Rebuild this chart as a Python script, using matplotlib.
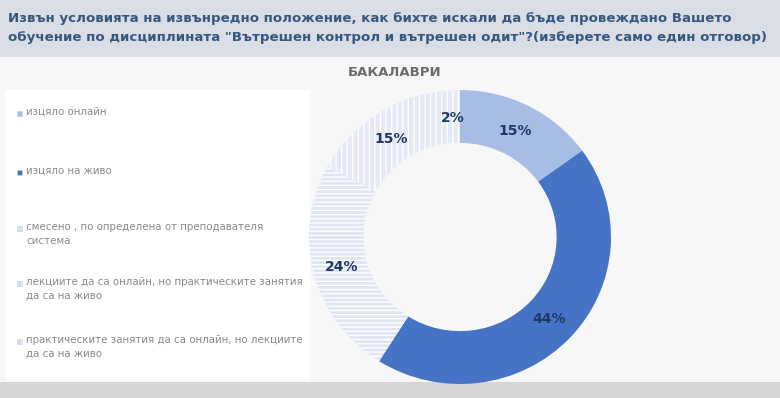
import numpy as np
import matplotlib.pyplot as plt
from matplotlib.patches import Rectangle

# данни за бакалаври
labels = ["изцяло онлайн",
          "изцяло на живо",
          "смесено , по определена от преподавателя\nсистема",
          "лекциите да са онлайн, но практическите занятия\nда са на живо",
          "практическите занятия да са онлайн, но лекциите\nда са на живо"]
values = [15, 44, 24, 15, 2]
colors = ['#a7bde6', '#4673c6', '#dfe5f3', '#e4e9f5', '#e4e9f5']
hatches = [None, None, '----', '|||', '|||']

W, H = 780, 398
plt.rcParams['hatch.linewidth'] = 1.0
fig = plt.figure(figsize=(W / 100, H / 100), dpi=100)
fig.patch.set_facecolor('#f7f7f7')

def px_axes(x0, y0, w, h):
    # координати в пиксели, отгоре надолу
    a = fig.add_axes([x0 / W, 1 - (y0 + h) / H, w / W, h / H])
    a.set_xticks([]); a.set_yticks([])
    for s in a.spines.values():
        s.set_visible(False)
    return a

# лента със заглавието
tb = px_axes(0, 0, W, 57)
tb.set_facecolor('#d9dee6')
tb.text(8 / W, 0.68, 'Извън условията на извънредно положение, как бихте искали да бъде провеждано Вашето',
        transform=tb.transAxes, fontsize=9.6, fontweight='bold', color='#37577e', va='center')
tb.text(8 / W, 0.35, 'обучение по дисциплината "Вътрешен контрол и вътрешен одит"?(изберете само един отговор)',
        transform=tb.transAxes, fontsize=9.6, fontweight='bold', color='#37577e', va='center')

# долна сива лента
bb = px_axes(0, 382, W, 16)
bb.set_facecolor('#d6d6d6')

fig.text(395 / W, 1 - 72 / H, 'БАКАЛАВРИ', fontsize=9.5, fontweight='bold',
         color='#6b6b6b', ha='center', va='center')

# легенда в отделно бяло поле
lg = px_axes(5, 90, 305, 290)
lg.set_facecolor('white')
lg.set_xlim(0, 305); lg.set_ylim(290, 0)
legend_y = [23, 82, 138, 193, 251]
for lab, c, h, y in zip(labels, colors, hatches, legend_y):
    lg.add_patch(Rectangle((12, y - 2.5), 5, 5, facecolor=c, edgecolor='#c5cfe4',
                           hatch=h, linewidth=0.4))
    lg.text(21, y - 6, lab, fontsize=7.4, color='#8a8a8a', va='top', ha='left',
            linespacing=1.45)

# поничка
ax = px_axes(460 - 151, 237 - 147, 302, 294)
wedges, _ = ax.pie(values, colors=colors, startangle=90, counterclock=False,
                   radius=1.0, wedgeprops=dict(width=0.36, edgecolor='white', linewidth=0))
for w, h in zip(wedges, hatches):
    if h:
        w.set_hatch(h)
        w.set_edgecolor('white')
ax.set_aspect('auto')
ax.set_xlim(-1, 1)
ax.set_ylim(-1, 1)

# етикети с проценти
ang = 90.0
for v in values:
    mid = np.deg2rad(ang - v * 3.6 / 2)
    r = 0.81
    ax.text(r * np.cos(mid), r * np.sin(mid), '{}%'.format(v), ha='center', va='center',
            fontsize=10, fontweight='bold', color='#1f3864')
    ang -= v * 3.6

fig.savefig('out.png', dpi=100, facecolor=fig.get_facecolor())
